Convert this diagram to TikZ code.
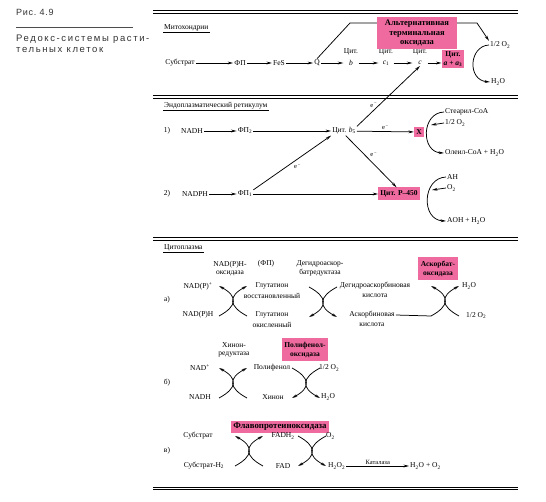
\documentclass[tikz,border=0pt]{standalone}
\usepackage{fontspec}
\setmainfont{Liberation Serif}
\newfontfamily\capfont[LetterSpace=8]{Liberation Sans}
\newfontfamily\capwide[LetterSpace=17]{Liberation Sans}
\usetikzlibrary{arrows.meta,calc}
\definecolor{hl}{HTML}{EE6A9F}
\newcommand\fsz{\fontsize{7.5}{8.4}\selectfont}
\newcommand\mysub[1]{\textsubscript{#1}}
\newcommand\elec{e\textsuperscript{\,−}}
% crossing pair of arcs: #1 name, #2 centre, #3 style left arc (drawn bottom->top), #4 style right arc
\newcommand\xpair[4]{%
  \coordinate (#1) at #2;
  \coordinate (#1-tl) at ($(#1)+(-14,-15)$);
  \coordinate (#1-bl) at ($(#1)+(-14,15)$);
  \coordinate (#1-tr) at ($(#1)+(14,-15)$);
  \coordinate (#1-br) at ($(#1)+(14,15)$);
  \draw[ln,#3] (#1-bl) .. controls ($(#1)+(4.7,5)$) and ($(#1)+(4.7,-5)$) .. (#1-tl);
  \draw[ln,#4] (#1-br) .. controls ($(#1)+(-4.7,5)$) and ($(#1)+(-4.7,-5)$) .. (#1-tr);
}
\begin{document}
\begin{tikzpicture}[x=1pt,y=-1pt,
  every node/.style={font=\fsz, inner sep=1pt},
  two/.style={align=center},
  box/.style={fill=hl, inner sep=2pt, align=center, font=\fsz\bfseries},
  ln/.style={line width=0.75pt},
  arr/.style={ln,-{Stealth[length=5.5pt,width=2.8pt]}},
  rarr/.style={ln,{Stealth[length=5.5pt,width=2.8pt]}-},
  rule/.style={line width=1pt},
  ul/.style={line width=0.55pt},
  lab/.style={font=\fontsize{6.5}{7}\selectfont, inner sep=1.5pt},
  captext/.style={font=\capfont\fontsize{9}{11}\selectfont, text=black!80, inner sep=0pt},
  capwtext/.style={font=\capwide\fontsize{9.5}{11}\selectfont, text=black!80, inner sep=0pt},
  ]
\useasboundingbox (0,0) rectangle (546,502);

% ---------- caption ----------
\node[captext, anchor=west] (fig) at (16,12) {Рис.\ 4.9};
\draw[line width=0.6pt, black!70] (16,27) -- (133,27);
\node[capwtext, anchor=north west, align=left] (captxt) at (16,35) {Редокс-системы расти-\\тельных клеток};

% ---------- double rules ----------
\foreach \yy in {11,96,238,487} {
  \draw[rule] (153,\yy) -- (518,\yy);
  \draw[rule] (153,\yy+2.7) -- (518,\yy+2.7);
}

% ---------- mitochondria ----------
\node[anchor=west] (mt) at (163,28) {Митохондрии};
\draw[ul] (mt.south west) -- (mt.south east);

\node (sub) at (180,63) {Субстрат};
\node (fp) at (240,63) {ФП};
\node (fes) at (279,63) {FeS};
\node (q) at (317,63) {Q};
\node[minimum width=15pt] (cb) at (351,63) {\textit{b}};
\node (cbl) at (351,52) {Цит.};
\node[minimum width=15pt] (cc1) at (386,63) {\textit{c}\mysub{1}};
\node (cc1l) at (386,52) {Цит.};
\node[minimum width=15pt] (cc) at (420,63) {\textit{c}};
\node (ccl) at (420,52) {Цит.};
\node[box] (caa) at (453,59) {Цит.\\\textit{a} + \textit{a}\mysub{3}};
\node[box, font=\fontsize{8.5}{9.6}\selectfont\bfseries, inner sep=2.5pt, minimum width=80pt] (alt) at (417,33) {Альтернативная\\терминальная\\оксидаза};
\node[anchor=west] (ho2) at (489,45) {1/2 O\mysub{2}};
\node[anchor=west] (hw) at (490,82) {H\mysub{2}O};

\draw[arr] (sub) -- (fp);
\draw[arr] (fp) -- (fes);
\draw[arr] (fes) -- (q);
\draw[arr] (q) -- (cb);
\draw[arr] (cb) -- (cc1);
\draw[arr] (cc1) -- (cc);
\draw[arr] (cc.east) -- (caa.west |- cc.east);
\coordinate (k1) at (350,23);
\coordinate (k2) at (477,23);
\draw[ln] (q.north) -- (k1) -- (k1 -| alt.west);
\draw[arr] (k2 -| alt.east) -- (k2) -- (ho2.north west);
\draw[arr] (ho2.west) .. controls (469,46) and (467,80) .. (hw.west);

% ---------- endoplasmic reticulum ----------
\node[anchor=west] (et) at (163,106) {Эндоплазматический ретикулум};
\draw[ul] (et.south west) -- (et.south east);

\node (l1) at (167,131) {1)};
\node (nadh) at (192,131) {NADH};
\node (fp2) at (245,131) {ФП\mysub{2}};
\node (b5) at (344,131) {Цит. \textit{b}\mysub{5}};
\node[box, inner sep=2.2pt] (xb) at (419,132) {X};
\node[anchor=west] (st) at (444,112) {Стеарил-CoA};
\node[anchor=west] (o2a) at (444,123) {1/2 O\mysub{2}};
\node[anchor=west] (ol) at (444,153) {Олеил-CoA + H\mysub{2}O};

\node (l2) at (167,194) {2)};
\node (nadph) at (195,194) {NADPH};
\node (fp1) at (245,194) {ФП\mysub{1}};
\node[box, minimum height=13pt] (p450) at (399,194) {Цит. P–450};
\node[anchor=west] (ah) at (446,177) {AH};
\node[anchor=west] (o2b) at (446,188) {O\mysub{2}};
\node[anchor=west] (aoh) at (446,221) {AOH + H\mysub{2}O};

\draw[arr] (nadh) -- (fp2);
\draw[arr] (fp2) -- (b5);
\draw[arr] (b5) -- node[lab, above] {\elec} (xb);
\draw[arr] (nadph) -- (fp1);
\draw[arr] (fp1) -- (p450);
\draw[arr] (fp1.north east) -- node[lab, below right] {\elec} (b5.south west);
\draw[arr] (b5.-70) -- node[lab, above right, pos=.45] {\elec} (p450.110);
\draw[arr] (b5.north east) -- node[lab, left, pos=.35] {\elec} (cc.south);

\coordinate (o2ain) at (431,125);
\draw[arr] (st.west) .. controls (421,113) and (421,152) .. (ol.west);
\draw[arr] (o2a.west) -- (o2ain);
\coordinate (o2bin) at (432,190);
\draw[arr] (ah.west) .. controls (422,178) and (421,220) .. (aoh.west);
\draw[arr] (o2b.west) -- (o2bin);

% ---------- cytoplasm ----------
\node[anchor=west] (ct) at (163,248) {Цитоплазма};
\draw[ul] (ct.south west) -- (ct.south east);

% a)
\node[two] (nox) at (230,268.5) {NAD(P)H-\\оксидаза};
\node (fpn) at (266,264) {(ФП)};
\node[two] (dhr) at (320,268.5) {Дегидроаскор-\\батредуктаза};
\node[box, minimum width=40pt, minimum height=23pt] (aox) at (438,269) {Аскорбат-\\оксидаза};
\node (nadp) at (198,286) {NAD(P)\textsuperscript{+}};
\node (nadph2) at (198,315) {NAD(P)H};
\node (la) at (167,300) {а)};
\node (gr) at (272,286) {Глутатион};
\node (gr2) at (272,296) {восстановленный};
\node (go) at (272,315) {Глутатион};
\node (go2) at (272,325) {окисленный};
\node (dha) at (375,286) {Дегидроаскорбиновая};
\node (dha2) at (375,296) {кислота};
\node (asc) at (372,315) {Аскорбиновая};
\node (asc2) at (372,325) {кислота};
\node[anchor=west] (w1) at (461,286) {H\mysub{2}O};
\node[anchor=west] (o1) at (465,315.5) {1/2 O\mysub{2}};

\xpair{xa}{(233,301)}{arr}{arr}
\xpair{xb2}{(323,302)}{rarr}{rarr}
\xpair{xc}{(445,301)}{arr}{arr}
\draw[ln] (asc.east) -- (xc-bl);

% b)
\node[two] (qr) at (234,350) {Хинон-\\редуктаза};
\node[box, minimum width=40pt, minimum height=23pt] (pox) at (305,350) {Полифенол-\\оксидаза};
\node (nadp2) at (200,368) {NAD\textsuperscript{+}};
\node (nadh2) at (200,397) {NADH};
\node (lb) at (167,383) {б)};
\node (pf) at (272,368) {Полифенол};
\node (hin) at (273,397) {Хинон};
\node[anchor=west] (o3) at (318,368) {1/2 O\mysub{2}};
\node[anchor=west] (w3) at (320,397) {H\mysub{2}O};

\xpair{xd}{(233,383)}{arr}{arr}
\xpair{xe}{(306,383)}{rarr}{rarr}

% c)
\node[box, font=\fontsize{8.8}{9.5}\selectfont\bfseries, inner sep=2pt] (fox) at (280,427) {Флавопротеиноксидаза};
\node (s1) at (198,436) {Субстрат};
\node (s2) at (204,466) {Субстрат-H\mysub{2}};
\node (lc) at (167,451) {в)};
\node (fadh) at (283,436) {FADH\mysub{2}};
\node (fad) at (283,466) {FAD};
\node[anchor=west] (o4) at (325,436) {O\mysub{2}};
\node[anchor=west] (hp) at (327,466) {H\mysub{2}O\mysub{2}};
\node[anchor=west] (prod) at (409,466) {H\mysub{2}O + O\mysub{2}};
\draw[arr] (hp.east) -- node[lab, above] {Каталаза} (prod.west);

\xpair{xf}{(249,451)}{arr}{arr}
\xpair{xg}{(312,451)}{rarr}{rarr}
\end{tikzpicture}
\end{document}
